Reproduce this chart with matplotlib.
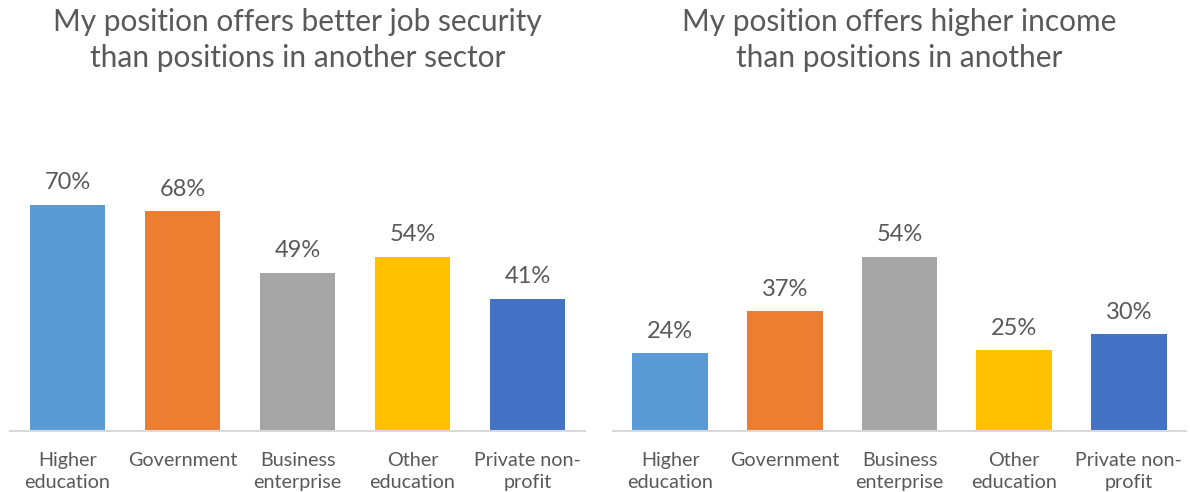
import matplotlib
matplotlib.use("Agg")
import matplotlib.pyplot as plt

categories = ["Higher\neducation", "Government", "Business\nenterprise", "Other\neducation", "Private non-\nprofit"]
security_values = [70, 68, 49, 54, 41]
income_values = [24, 37, 54, 25, 30]
titles = ["My position offers better job security\nthan positions in another sector",
          "My position offers higher income\nthan positions in another"]
colors = ["#5B9BD5", "#ED7D31", "#A5A5A5", "#FFC000", "#4472C4"]
text_color = "#595959"

plt.rcParams['font.family'] = ['Lato', 'DejaVu Sans']

W, H = 1190, 492
fig = plt.figure(figsize=(W / 100, H / 100), dpi=100)

ax_bottom = 431
ax_top = 100
ymax = (ax_bottom - ax_top) / 3.23

panels = [(10, 585, security_values, titles[0]), (613, 1186, income_values, titles[1])]
for x0, x1, vals, title in panels:
    ax = fig.add_axes([x0 / W, (H - ax_bottom) / H, (x1 - x0) / W, (ax_bottom - ax_top) / H])
    xs = list(range(len(categories)))
    bars = ax.bar(xs, vals, width=0.66, color=colors)
    ax.set_xlim(-0.5, len(categories) - 0.5)
    ax.set_ylim(0, ymax)
    for s in ["top", "right", "left"]:
        ax.spines[s].set_visible(False)
    ax.spines["bottom"].set_color("#D9D9D9")
    ax.spines["bottom"].set_linewidth(1.5)
    ax.set_yticks([])
    ax.set_xticks(xs)
    ax.set_xticklabels(categories, fontsize=14.2, color=text_color, linespacing=1.35)
    ax.tick_params(axis="x", length=0, pad=15)
    for b, v in zip(bars, vals):
        ax.annotate(f"{v}%", (b.get_x() + b.get_width() / 2, v), xytext=(0, 15.8),
                    textcoords="offset points", ha="center", va="center",
                    fontsize=17, color=text_color)
    cx = (x0 + x1) / 2 / W
    fig.text(cx, 1 - 40 / H, title, ha="center", va="center", fontsize=21.5,
             color=text_color, linespacing=1.32)

fig.savefig("out.png", dpi=100, facecolor="white")
